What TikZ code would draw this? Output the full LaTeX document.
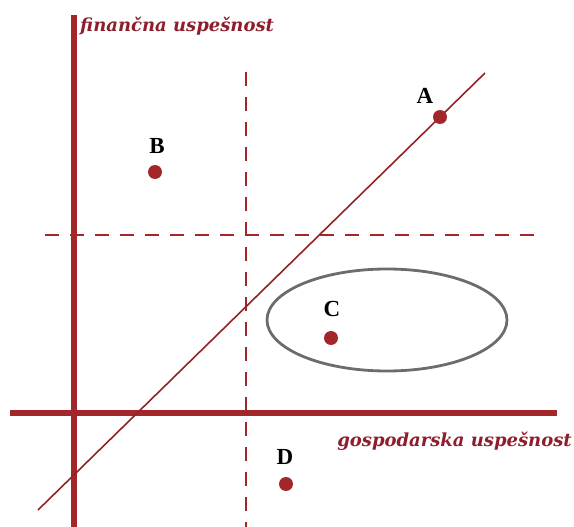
\documentclass[tikz,border=0pt]{standalone}
\usepackage{fontspec}
\setmainfont{Liberation Serif}
\newfontfamily\osnapis{DejaVu Serif}
\usetikzlibrary{positioning,shapes.geometric}
\definecolor{temnoRdeca}{HTML}{A3262B}
\definecolor{napisRdeca}{HTML}{8E1E2C}
\colorlet{colOs}{temnoRdeca}
\colorlet{colElipsa}{gray!85!black}

\begin{document}
\begin{tikzpicture}[x=1pt, y=-1pt,
        os/.style={draw=colOs, line width=6pt},
        crta/.style={draw=colOs, line width=2.8pt, dash pattern=on 14pt off 11pt},
        trend/.style={draw=colOs!90!black, line width=1.6pt},
        tocka/.style={circle, fill=colOs, inner sep=0pt, minimum size=14pt},
        crka/.style={font=\bfseries\fontsize{23}{25}\selectfont, text=black},
        naslov/.style={font=\osnapis\bfseries\itshape\fontsize{18}{20}\selectfont, text=napisRdeca, inner sep=0pt}
    ]
        \useasboundingbox (0,0) rectangle (574,527);

        % --- OSI ---
        \coordinate (osY1) at (74,15);
        \coordinate (osY2) at (74,527);
        \coordinate (osX1) at (10,413);
        \coordinate (osX2) at (557,413);
        \draw[os] (osY1) -- (osY2);
        \draw[os] (osX1) -- (osX2);

        % Crtkani meji
        \coordinate (mejaV1) at (246,72);
        \coordinate (mejaV2) at (246,527);
        \coordinate (mejaH1) at (45,235);
        \coordinate (mejaH2) at (540,235);
        \draw[crta] (mejaV1) -- (mejaV2);
        \draw[crta] (mejaH1) -- (mejaH2);

        % Trendna premica
        \coordinate (trendZ) at (38,510);
        \coordinate (trendK) at (485,73);
        \draw[trend] (trendZ) -- (trendK);

        % Elipsa okoli C
        \node[draw=colElipsa, line width=2.8pt, ellipse, minimum width=240pt, minimum height=102pt] (elipsa) at (387,320) {};

        % --- TOCKE ---
        \node[tocka] (tA) at (440,117) {};
        \node[tocka] (tB) at (155,172) {};
        \node[tocka] (tC) at (331,338) {};
        \node[tocka] (tD) at (286,484) {};

        \node[crka] (lA) at (425,96) {A};
        \node[crka] (lB) at (157,146) {B};
        \node[crka] (lC) at (332,309) {C};
        \node[crka] (lD) at (285,457) {D};

        % Napisa osi
        \node[naslov, anchor=west] (napisY) at (80,26) {finančna uspešnost};
        \node[naslov, anchor=east] (napisX) at (572,441) {gospodarska uspešnost};
    \end{tikzpicture}
\end{document}
